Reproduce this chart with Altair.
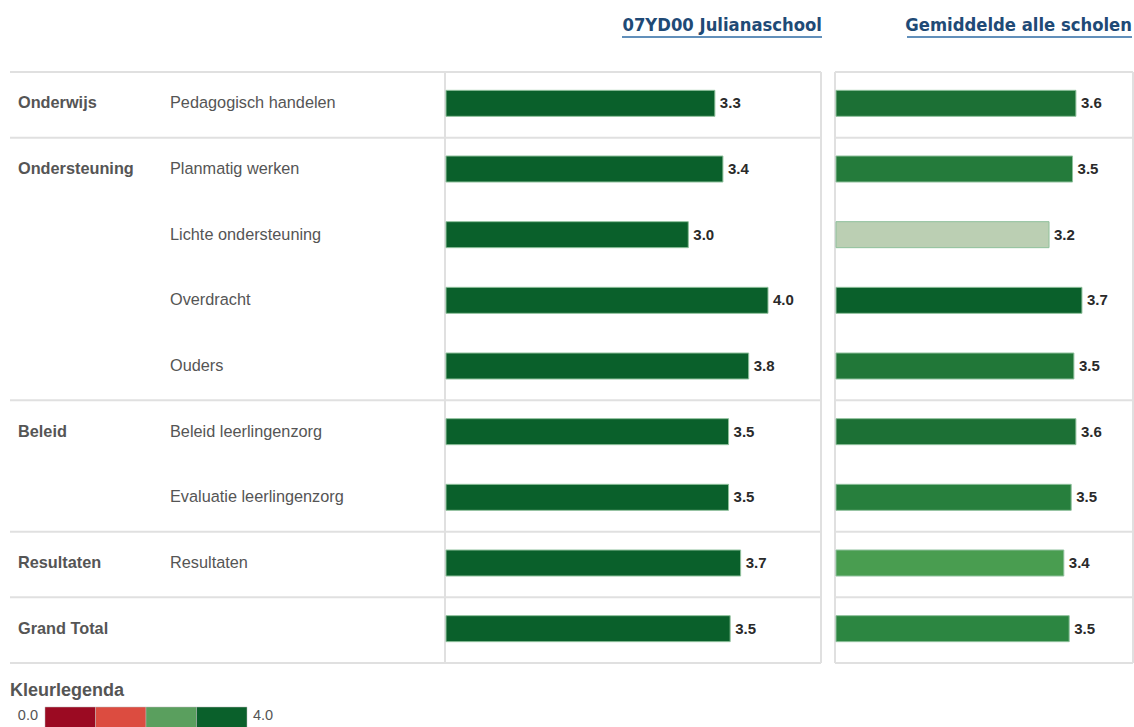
import altair as alt
import pandas as pd

# ---------------- data ----------------
groups = ["Onderwijs", "Ondersteuning", "Ondersteuning", "Ondersteuning", "Ondersteuning",
          "Beleid", "Beleid", "Resultaten", "Grand Total"]
items = ["Pedagogisch handelen", "Planmatig werken", "Lichte ondersteuning", "Overdracht",
         "Ouders", "Beleid leerlingenzorg", "Evaluatie leerlingenzorg", "Resultaten", ""]
school = [3.34, 3.44, 3.01, 4.00, 3.76, 3.51, 3.51, 3.66, 3.53]
average = [3.57, 3.52, 3.17, 3.66, 3.54, 3.57, 3.50, 3.39, 3.47]
titles = ["07YD00 Julianaschool", "Gemiddelde alle scholen"]
legend_title = "Kleurlegenda"
legend_colors = ["#9b0a22", "#dc4c40", "#5a9f5e", "#0a602b"]
legend_bins = [0, 1, 2, 3]
legend_labels = ["0.0", "4.0"]

# colour scale used for the average panel
avg_color_domain = [3.165, 3.388, 3.473, 3.571, 3.661]
avg_color_range = ["#bdd0b5", "#4a9e50", "#2b8540", "#1c7035", "#0a602b"]

# ---------------- layout constants ----------------
W, H = 1134, 727
TOP, BOTTOM = 72, 663
LEFT_X0, LEFT_X1 = 446, 821
RIGHT_X0, RIGHT_X1 = 836, 1133
LEFT_PX_PER_UNIT = 80.5
RIGHT_PX_PER_UNIT = 67.2
FONT = "Liberation Sans"
GRAY = "#555555"
LINE = "#e0e0e0"
YOFF = -1.5

n = len(items)
rows = pd.DataFrame({
    "idx": list(range(n)),
    "group": groups,
    "item": items,
    "school": school,
    "average": average,
})
rows["grp_label"] = [g if (i == 0 or groups[i - 1] != g) else "" for i, g in enumerate(groups)]

# group boundaries (row index of separators)
bounds = [-0.5] + [i + 0.5 for i in range(n - 1) if groups[i] != groups[i + 1]] + [n - 0.5]
bounds_df = pd.DataFrame({"b": bounds})

yscale = alt.Scale(domain=[-0.5, n - 0.5], range=[TOP, BOTTOM], nice=False, zero=False, padding=0)
Y = alt.Y("idx:Q", scale=yscale, axis=None)

left_scale = alt.Scale(domain=[0, (LEFT_X1 - LEFT_X0) / LEFT_PX_PER_UNIT], range=[LEFT_X0, LEFT_X1],
                       nice=False, padding=0)
right_scale = alt.Scale(domain=[0, (RIGHT_X1 - RIGHT_X0) / RIGHT_PX_PER_UNIT], range=[RIGHT_X0, RIGHT_X1],
                        nice=False, padding=0)
px_scale = alt.Scale(domain=[0, W], range=[0, W], nice=False, padding=0)
leg_scale = alt.Scale(domain=[0, 4], range=[45, 247], nice=False, padding=0)

base = alt.Chart(rows)

# horizontal separators
hsep_left = alt.Chart(bounds_df).mark_rule(color=LINE, strokeWidth=2).encode(
    y=alt.Y("b:Q", scale=yscale, axis=None), x=alt.value(10), x2=alt.value(821))
hsep_right = alt.Chart(bounds_df).mark_rule(color=LINE, strokeWidth=2).encode(
    y=alt.Y("b:Q", scale=yscale, axis=None), x=alt.value(835), x2=alt.value(1133))

vlines = []
for xv in [445, 821, 835, 1133]:
    vlines.append(alt.Chart(bounds_df).mark_rule(color=LINE, strokeWidth=2).encode(
        x=alt.value(xv),
        y=alt.Y("min(b):Q", scale=yscale, axis=None),
        y2=alt.Y2("max(b):Q")))

# labels
grp_text = base.mark_text(align="left", baseline="middle", font=FONT, fontSize=16.3,
                          fontWeight="bold", color=GRAY, yOffset=YOFF).encode(
    y=Y, x=alt.value(18), text="grp_label:N")
item_text = base.mark_text(align="left", baseline="middle", font=FONT, fontSize=16.3,
                           color=GRAY, yOffset=YOFF).encode(
    y=Y, x=alt.value(170), text="item:N")

# bars
bar_kw = dict(orient="horizontal", size=26, stroke="#8fc09c", strokeWidth=1, yOffset=YOFF)
left_bars = base.mark_bar(color="#0a602b", **bar_kw).encode(
    y=Y, x=alt.X("school:Q", scale=left_scale, axis=None))
left_vals = base.mark_text(align="left", baseline="middle", dx=5, font=FONT, fontSize=15,
                           fontWeight="bold", color="#2a2a2a", yOffset=YOFF).encode(
    y=Y, x=alt.X("school:Q", scale=left_scale, axis=None),
    text=alt.Text("school:Q", format=".1f"))

right_bars = base.mark_bar(**bar_kw).encode(
    y=Y, x=alt.X("average:Q", scale=right_scale, axis=None),
    color=alt.Color("average:Q", scale=alt.Scale(domain=avg_color_domain, range=avg_color_range,
                                                 clamp=True), legend=None))
right_vals = base.mark_text(align="left", baseline="middle", dx=5, font=FONT, fontSize=15,
                            fontWeight="bold", color="#2a2a2a", yOffset=YOFF).encode(
    y=Y, x=alt.X("average:Q", scale=right_scale, axis=None),
    text=alt.Text("average:Q", format=".1f"))

# column titles (right aligned to panel edges) with underline
title_df = pd.DataFrame({"t": titles, "xr": [822, 1132], "xl": [622, 907]})
title_text = alt.Chart(title_df).mark_text(align="right", baseline="middle",
                                           font="DejaVu Sans Condensed", fontSize=18.3,
                                           fontWeight="bold", color="#1f4a76").encode(
    text="t:N",
    x=alt.X("xr:Q", scale=px_scale, axis=None),
    y=alt.value(26))
title_ul = alt.Chart(title_df).mark_rule(color="#2d6aa3", strokeWidth=1.5).encode(
    x=alt.X("xl:Q", scale=px_scale, axis=None),
    x2="xr:Q",
    y=alt.value(37))

# colour legend
leg_df = pd.DataFrame({"lo": legend_bins, "hi": [b + 1 for b in legend_bins],
                       "c": [str(b) for b in legend_bins]})
leg_rects = alt.Chart(leg_df).mark_rect(stroke="#bbbbbb", strokeWidth=0.5).encode(
    x=alt.X("lo:Q", scale=leg_scale, axis=None),
    x2="hi:Q",
    y=alt.value(707), y2=alt.value(730),
    color=alt.Color("c:N", scale=alt.Scale(domain=[str(b) for b in legend_bins],
                                           range=legend_colors), legend=None))
leg_title = alt.Chart(pd.DataFrame({"t": [legend_title]})).mark_text(
    align="left", baseline="middle", font=FONT, fontSize=18, fontWeight="bold", color=GRAY).encode(
    text="t:N", x=alt.value(10), y=alt.value(691))
leg_lab_df = pd.DataFrame({"t": legend_labels, "v": [0, 4]})
leg_lab_l = alt.Chart(leg_lab_df.iloc[[0]]).mark_text(
    align="right", baseline="middle", font=FONT, fontSize=14.5, color=GRAY, dx=-7).encode(
    text="t:N", x=alt.X("v:Q", scale=leg_scale, axis=None), y=alt.value(716))
leg_lab_r = alt.Chart(leg_lab_df.iloc[[1]]).mark_text(
    align="left", baseline="middle", font=FONT, fontSize=14.5, color=GRAY, dx=6).encode(
    text="t:N", x=alt.X("v:Q", scale=leg_scale, axis=None), y=alt.value(716))

chart = alt.layer(
    hsep_left, hsep_right, *vlines,
    grp_text, item_text,
    left_bars, left_vals, right_bars, right_vals,
    title_text, title_ul,
    leg_rects, leg_title, leg_lab_l, leg_lab_r,
).resolve_scale(x="independent", color="independent").properties(
    width=W, height=H, padding=0,
    autosize=alt.AutoSizeParams(type="none"),
    background="white",
).configure_view(stroke=None)

chart.save("out.html", embed_options={"renderer": "svg", "actions": False})
